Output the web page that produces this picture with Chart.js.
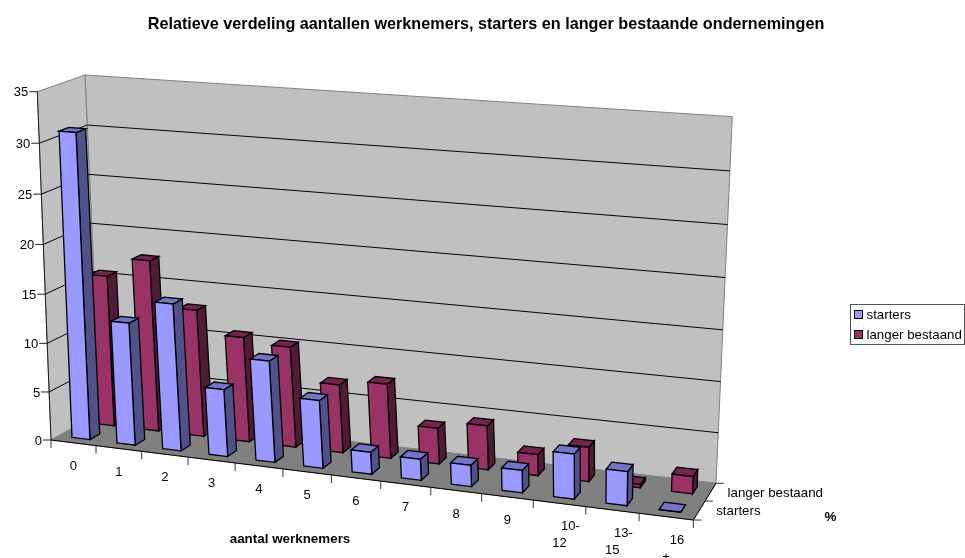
<!DOCTYPE html>
<html lang="nl">
<head>
  <meta charset="UTF-8" />
  <title>Relatieve verdeling</title>
  <script src="https://cdn.jsdelivr.net/npm/chart.js"></script>
  <style>
    body { margin: 0; background: #FFF; }
    canvas { display: block; }
  </style>
</head>
<body>
  <canvas id="chart" width="965" height="558"></canvas>
  <script>
    const titleText = 'Relatieve verdeling aantallen werknemers, starters en langer bestaande ondernemingen';
    const xTitle = 'aantal werknemers';
    const zTitle = '%';
    const categories = ['0', '1', '2', '3', '4', '5', '6', '7', '8', '9', ['10-', '12'], ['13-', '15'], ['16', '+']];
    const starters = [31, 12.5, 14.9, 6.8, 10.2, 6.8, 2.2, 2.1, 2.1, 2.2, 4.4, 3.3, 0];
    const langerBestaand = [15.6, 17.6, 13, 10.7, 10.2, 6.9, 7.5, 3.6, 4.4, 2.1, 3.4, 0.3, 1.7];

    const FONT = '"Liberation Sans", Arial, sans-serif';

    // corners of the 3d box on screen: front-left, front-right, back-right, back-left
    const floorQuad = [[51, 440], [693.3, 520], [716, 483.3], [100, 413]];
    const topQuad = [[37.3, 91.7], [710, 142], [732.3, 116.7], [85, 75]];
    const persp = 0.96; // vertical foreshortening
    const uWarp = 1.09; // spacing along the category axis

    function makeHomography(q) {
      const [p0, p1, p2, p3] = q;
      const dx1 = p1[0] - p2[0], dx2 = p3[0] - p2[0], sx = p0[0] - p1[0] + p2[0] - p3[0];
      const dy1 = p1[1] - p2[1], dy2 = p3[1] - p2[1], sy = p0[1] - p1[1] + p2[1] - p3[1];
      const d = dx1 * dy2 - dx2 * dy1;
      const g = (sx * dy2 - dx2 * sy) / d;
      const h = (dx1 * sy - sx * dy1) / d;
      const a = p1[0] - p0[0] + g * p1[0], b = p3[0] - p0[0] + h * p3[0];
      const e = p1[1] - p0[1] + g * p1[1], f = p3[1] - p0[1] + h * p3[1];
      return (u, v) => {
        const t = g * u + h * v + 1;
        return [(a * u + b * v + p0[0]) / t, (e * u + f * v + p0[1]) / t];
      };
    }
    const floorH = makeHomography(floorQuad);
    const topH = makeHomography(topQuad);

    function P(u0, v, w) {
      const u = uWarp * u0 / (1 + (uWarp - 1) * u0);
      const a = floorH(u, v), b = topH(u, v);
      const s = persp * w / (1 + (persp - 1) * w);
      return [a[0] + (b[0] - a[0]) * s, a[1] + (b[1] - a[1]) * s];
    }

    function poly(ctx, pts, fill, stroke, lw) {
      ctx.beginPath();
      pts.forEach((p, i) => i ? ctx.lineTo(p[0], p[1]) : ctx.moveTo(p[0], p[1]));
      ctx.closePath();
      if (fill) { ctx.fillStyle = fill; ctx.fill(); }
      if (stroke) { ctx.strokeStyle = stroke; ctx.lineWidth = lw || 1; ctx.stroke(); }
    }

    function line(ctx, a, b, color, lw) {
      ctx.beginPath();
      ctx.moveTo(a[0], a[1]);
      ctx.lineTo(b[0], b[1]);
      ctx.strokeStyle = color;
      ctx.lineWidth = lw || 1;
      ctx.stroke();
    }

    function text(ctx, str, x, y, font, align) {
      ctx.font = font;
      ctx.fillStyle = '#000';
      ctx.textAlign = align || 'center';
      ctx.textBaseline = 'middle';
      ctx.fillText(str, x, y);
    }

    const box3d = {
      id: 'box3d',
      beforeDatasetsDraw(chart) {
        const ctx = chart.ctx;
        const area = chart.chartArea;
        const xs = chart.scales.x, ys = chart.scales.y;
        const wOf = px => (area.bottom - px) / area.height;
        ctx.save();

        // walls and floor
        poly(ctx, [P(0, 1, 0), P(1, 1, 0), P(1, 1, 1), P(0, 1, 1)], '#C0C0C0', '#808080');
        poly(ctx, [P(0, 0, 0), P(0, 1, 0), P(0, 1, 1), P(0, 0, 1)], '#C0C0C0', '#808080');
        poly(ctx, [P(0, 0, 0), P(1, 0, 0), P(1, 1, 0), P(0, 1, 0)], '#808080', '#808080');

        // gridlines and y axis
        ys.ticks.forEach(t => {
          const w = wOf(ys.getPixelForValue(t.value));
          if (w > 0 && w < 1) {
            line(ctx, P(0, 0, w), P(0, 1, w), '#000');
            line(ctx, P(0, 1, w), P(1, 1, w), '#000');
          }
          const f = P(0, 0, w);
          line(ctx, [f[0] - 8, f[1]], f, '#222');
          text(ctx, String(t.value), f[0] - 9, f[1] + 1, '13px ' + FONT, 'right');
        });
        line(ctx, P(0, 0, 0), P(0, 0, 1), '#222');

        // front edge, category ticks and labels
        line(ctx, P(0, 0, 0), P(1, 0, 0), '#000');
        const n = categories.length;
        for (let i = 0; i <= n; i++) {
          const p = P(i / n, 0, 0);
          line(ctx, p, [p[0], p[1] + 8], '#333');
        }
        categories.forEach((c, i) => {
          const u = (xs.getPixelForValue(i) - area.left) / area.width;
          const p = P(u, 0, 0);
          if (Array.isArray(c)) {
            text(ctx, c[0], p[0] + 11, p[1] + 23.5, '13px ' + FONT);
            text(ctx, c[1], p[0], p[1] + 40.5, '13px ' + FONT);
          } else {
            text(ctx, c, p[0], p[1] + 23.5, '13px ' + FONT);
          }
        });

        // depth axis
        line(ctx, P(1, 0, 0), P(1, 1, 0), '#000');
        [0, 0.5, 1].forEach(v => {
          const p = P(1, v, 0);
          line(ctx, p, [p[0] + 8, p[1]], '#333');
        });
        chart.data.datasets.forEach((ds, k) => {
          const p = P(1, 0.25 + k * 0.5, 0);
          text(ctx, ds.label, p[0] + 17, p[1] + 1, '13.3px ' + FONT, 'left');
        });

        // bars: back row first
        for (let k = chart.data.datasets.length - 1; k >= 0; k--) {
          const ds = chart.data.datasets[k];
          const meta = chart.getDatasetMeta(k);
          const v0 = 0.15 + k * 0.5, v1 = v0 + 0.2;
          meta.data.forEach(el => {
            const u0 = (el.x - el.width / 2 - area.left) / area.width;
            const u1 = (el.x + el.width / 2 - area.left) / area.width;
            const w = wOf(el.y);
            poly(ctx, [P(u1, v0, 0), P(u1, v1, 0), P(u1, v1, w), P(u1, v0, w)], ds.sideColor, '#000', 1.3);
            poly(ctx, [P(u0, v0, w), P(u1, v0, w), P(u1, v1, w), P(u0, v1, w)], ds.topColor, '#000', 1.3);
            poly(ctx, [P(u0, v0, 0), P(u1, v0, 0), P(u1, v0, w), P(u0, v0, w)], ds.backgroundColor, '#000', 1.3);
          });
        }

        // axis titles
        text(ctx, xTitle, 290, 539, 'bold 13.4px ' + FONT);
        text(ctx, zTitle, 830.5, 517, 'bold 13.4px ' + FONT);

        // legend box
        ctx.strokeStyle = '#555';
        ctx.lineWidth = 1;
        ctx.strokeRect(850.5, 304.5, 114, 40);
        chart.data.datasets.forEach((ds, k) => {
          const y = 310.5 + k * 20;
          ctx.fillStyle = ds.backgroundColor;
          ctx.fillRect(854.5, y, 8, 8);
          ctx.strokeStyle = '#000';
          ctx.strokeRect(854.5, y, 8, 8);
          text(ctx, ds.label, 866.5, y + 4.5, '13.3px ' + FONT, 'left');
        });

        ctx.restore();
        return false;
      }
    };

    new Chart(document.getElementById('chart'), {
      type: 'bar',
      data: {
        labels: categories,
        datasets: [
          { label: 'starters', data: starters, backgroundColor: '#9999FF', sideColor: '#51518A', topColor: '#7373C8' },
          { label: 'langer bestaand', data: langerBestaand, backgroundColor: '#993366', sideColor: '#511B36', topColor: '#73264D' }
        ]
      },
      options: {
        responsive: false,
        animation: false,
        grouped: false,
        categoryPercentage: 1,
        barPercentage: 0.4,
        layout: { padding: { left: 7 } },
        scales: {
          x: { display: false },
          y: { display: false, min: 0, max: 35, ticks: { stepSize: 5 } }
        },
        plugins: {
          legend: { display: false },
          tooltip: { enabled: false },
          title: {
            display: true,
            text: titleText,
            color: '#000',
            font: { family: FONT, size: 16.2, weight: 'bold' },
            padding: { top: 15, bottom: 10 }
          }
        }
      },
      plugins: [box3d]
    });
  </script>
</body>
</html>
